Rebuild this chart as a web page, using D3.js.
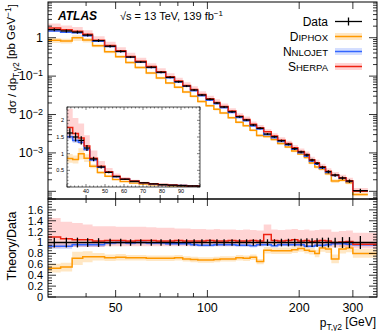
<!DOCTYPE html>
<meta charset="utf-8">
<head>
    <title>ATLAS diphoton pT gamma2</title>
    <style>
        body { margin: 0; background: #fff; }
        text { font-family: "Liberation Sans", Arial, sans-serif; fill: #000; }
    </style>
</head>
<body>
<script src="https://cdn.jsdelivr.net/npm/d3@7"></script>
<script>
// bin edges of p_T,gamma2 [GeV]
var edges = [30,33,36,39,42,46,50,54,58,63,68,73,78,83,88,93,99,105,110,117,
             124,131,138,145,153,162,170,180,189,198,208,216,225,233,244,255,270,285,300,336];

// measured cross section [pb/GeV] and relative uncertainty
var data = [1.62,1.50,1.40,1.17,0.84,0.60,0.44,0.314,0.233,0.170,0.126,0.093,0.0715,0.0552,0.0435,
            0.0322,0.0249,0.0199,0.0157,0.0118,0.00877,0.00719,0.00533,0.00437,0.00311,0.00264,0.00208,
            0.00168,0.00129,0.00106,0.00088,0.00065,0.000536,0.000422,0.000324,0.000265,0.000222,0.000185,0.000104];
var dataErr = [0.09,0.09,0.09,0.08,0.08,0.07,0.07,0.06,0.06,0.06,0.06,0.06,0.06,0.06,0.06,
               0.06,0.06,0.06,0.06,0.06,0.06,0.06,0.06,0.06,0.06,0.06,0.07,0.07,0.07,0.07,
               0.08,0.08,0.08,0.09,0.09,0.09,0.10,0.10,0.12];

// theory / data
var sherpa = [1.10,1.07,1.05,1.05,1.03,1.04,1.04,1.03,1.04,1.04,1.03,1.03,1.04,1.03,1.03,
              1.03,1.04,1.03,1.03,1.04,1.03,1.03,1.04,1.03,1.15,1.04,1.03,1.04,1.05,1.03,
              1.04,1.02,1.03,1.04,1.03,1.00,1.01,1.02,0.97];
var sherpaHi = [1.45,1.38,1.36,1.33,1.30,1.30,1.29,1.29,1.29,1.28,1.27,1.27,1.26,1.26,1.25,
                1.25,1.24,1.25,1.24,1.24,1.23,1.24,1.23,1.22,1.33,1.24,1.23,1.24,1.25,1.23,
                1.24,1.22,1.23,1.24,1.24,1.20,1.21,1.22,1.18];
var sherpaLo = [0.90,0.91,0.92,0.92,0.92,0.93,0.93,0.93,0.93,0.93,0.93,0.93,0.93,0.93,0.93,
                0.93,0.93,0.93,0.93,0.93,0.93,0.93,0.93,0.93,0.98,0.93,0.93,0.93,0.94,0.93,
                0.93,0.92,0.93,0.93,0.93,0.91,0.92,0.92,0.89];

var nnlojet = [0.93,0.93,0.96,0.96,0.96,0.99,1.00,0.99,1.00,0.99,0.99,0.98,0.98,0.98,0.96,
               0.95,0.95,0.96,0.96,0.96,0.95,0.95,0.94,0.96,0.96,0.94,0.96,0.96,0.96,0.96,
               0.93,0.93,0.95,0.95,0.96,0.98,0.98,0.97,0.96];
var nnlojetErr = [0.05,0.05,0.04,0.04,0.04,0.03,0.03,0.03,0.03,0.03,0.03,0.03,0.03,0.03,0.03,
                  0.03,0.03,0.03,0.03,0.03,0.03,0.03,0.03,0.03,0.03,0.03,0.03,0.03,0.03,0.03,
                  0.03,0.03,0.03,0.03,0.03,0.03,0.03,0.03,0.03];

var diphox = [0.53,0.55,0.71,0.74,0.74,0.72,0.73,0.72,0.72,0.71,0.71,0.71,0.72,0.70,0.69,
              0.68,0.68,0.69,0.70,0.70,0.72,0.71,0.73,0.65,0.86,0.85,0.85,0.85,0.87,0.89,
              0.86,0.84,0.80,0.90,0.88,0.70,0.88,0.90,0.80];
var diphoxErr = [0.08,0.08,0.12,0.10,0.07,0.06,0.06,0.05,0.05,0.05,0.05,0.05,0.05,0.05,0.05,
                 0.05,0.05,0.05,0.05,0.05,0.05,0.05,0.05,0.05,0.06,0.06,0.06,0.06,0.06,0.06,
                 0.06,0.06,0.07,0.07,0.07,0.08,0.08,0.08,0.08];

var mainYLabels = [{v: 1, b: "1", e: ""}, {v: 0.1, b: "10", e: "\u22121"},
                   {v: 0.01, b: "10", e: "\u22122"}, {v: 0.001, b: "10", e: "\u22123"}];
var xLabels = [50, 100, 200, 300];
var ratioLabels = [0, 0.2, 0.4, 0.6, 0.8, 1, 1.2, 1.4, 1.6];
var insetXLabels = [40, 50, 60, 70, 80, 90];
var insetYLabels = [0.5, 1, 1.5, 2];

var colRed = "#ee2211", colBlue = "#3366ff", colOrange = "#ff9900";
var bandRed = "rgba(255,40,40,0.2)", bandBlue = "rgba(40,90,255,0.2)", bandOrange = "rgba(255,160,20,0.25)";

var W = 390, H = 331;
var L = 48, R = 377, T = 2, MB = 199, RB = 297;

var svg = d3.select("body").append("svg").attr("width", W).attr("height", H);

var x = d3.scaleLog().domain([30, 360]).range([L, R]);
var yMain = d3.scaleLog().domain([Math.pow(10, -4.2), Math.pow(10, 0.93)]).range([MB, T]);
var yRatio = d3.scaleLinear().domain([0, 1.8]).range([RB, MB]);
var xi = d3.scaleLinear().domain([30, 100]).range([67, 200]);
var yi = d3.scaleLinear().domain([0, 2.4]).range([187, 107]);

var n = data.length;
function steps(vals, lastX) {
    var pts = vals.map(function(v, i) { return [edges[i], v]; });
    pts.push([lastX || edges[n], vals[n - 1]]);
    return pts;
}
function bandSteps(lo, hi, lastX) {
    var pts = lo.map(function(v, i) { return [edges[i], v, hi[i]]; });
    pts.push([lastX || edges[n], lo[n - 1], hi[n - 1]]);
    return pts;
}
function mul(a, b) { return a.map(function(v, i) { return v * b[i]; }); }
function addc(a, e, s) { return a.map(function(v, i) { return v + s * e[i]; }); }

var defs = svg.append("defs");
defs.append("clipPath").attr("id", "clipMain").append("rect")
    .attr("x", L).attr("y", T).attr("width", R - L).attr("height", MB - T);
defs.append("clipPath").attr("id", "clipRatio").append("rect")
    .attr("x", L).attr("y", MB).attr("width", R - L).attr("height", RB - MB);
defs.append("clipPath").attr("id", "clipInset").append("rect")
    .attr("x", xi.range()[0]).attr("y", yi.range()[1])
    .attr("width", xi.range()[1] - xi.range()[0]).attr("height", yi.range()[0] - yi.range()[1]);

// theory curves (ratios to data)
var theories = [
    {c: diphox, lo: addc(diphox, diphoxErr, -1), hi: addc(diphox, diphoxErr, 1), col: colOrange, band: bandOrange},
    {c: nnlojet, lo: addc(nnlojet, nnlojetErr, -1), hi: addc(nnlojet, nnlojetErr, 1), col: colBlue, band: bandBlue},
    {c: sherpa, lo: sherpaLo, hi: sherpaHi, col: colRed, band: bandRed}
];

function drawPanel(g, xs, ys, absolute, lastX) {
    var line = d3.line().x(function(d) { return xs(d[0]); }).y(function(d) { return ys(d[1]); }).curve(d3.curveStepAfter);
    var area = d3.area().x(function(d) { return xs(d[0]); })
        .y0(function(d) { return ys(d[1]); }).y1(function(d) { return ys(d[2]); }).curve(d3.curveStepAfter);
    theories.forEach(function(t) {
        var lo = absolute ? mul(t.lo, data) : t.lo;
        var hi = absolute ? mul(t.hi, data) : t.hi;
        g.append("path").attr("d", area(bandSteps(lo, hi, lastX))).attr("fill", t.band);
    });
    theories.forEach(function(t) {
        var c = absolute ? mul(t.c, data) : t.c;
        g.append("path").attr("d", line(steps(c, lastX))).attr("fill", "none")
            .attr("stroke", t.col).attr("stroke-width", 1.5);
    });
    // data
    data.forEach(function(d, i) {
        var v = absolute ? d : 1;
        var xc = Math.sqrt(edges[i] * edges[i + 1]);
        if (xs === xi) xc = (edges[i] + edges[i + 1]) / 2;
        if (absolute) {
            g.append("line").attr("x1", xs(edges[i])).attr("x2", xs(edges[i + 1]))
                .attr("y1", ys(v)).attr("y2", ys(v)).attr("stroke", "#000").attr("stroke-width", 1.3);
        }
        g.append("line").attr("x1", xs(xc)).attr("x2", xs(xc))
            .attr("y1", ys(v * (1 - dataErr[i]))).attr("y2", ys(v * (1 + dataErr[i])))
            .attr("stroke", "#000").attr("stroke-width", 1.3);
    });
    if (!absolute) {
        g.append("line").attr("x1", L).attr("x2", R).attr("y1", ys(1)).attr("y2", ys(1))
            .attr("stroke", "#000").attr("stroke-width", 1.5);
    }
}

var gMain = svg.append("g").attr("clip-path", "url(#clipMain)");
drawPanel(gMain, x, yMain, true);

var gRatio = svg.append("g").attr("clip-path", "url(#clipRatio)");
drawPanel(gRatio, x, yRatio, false, 360);

// frames
svg.append("rect").attr("x", L).attr("y", T).attr("width", R - L).attr("height", MB - T)
    .attr("fill", "none").attr("stroke", "#000").attr("stroke-width", 1);
svg.append("rect").attr("x", L).attr("y", MB).attr("width", R - L).attr("height", RB - MB)
    .attr("fill", "none").attr("stroke", "#000").attr("stroke-width", 1);

var ticks = svg.append("g").attr("stroke", "#000").attr("stroke-width", 0.8);
function tick(x1, y1, x2, y2) {
    ticks.append("line").attr("x1", x1).attr("y1", y1).attr("x2", x2).attr("y2", y2);
}

// x ticks on both panels
var xTicks = [40, 50, 60, 70, 80, 90, 100, 200, 300];
xTicks.forEach(function(v) {
    var len = xLabels.indexOf(v) >= 0 ? 7 : 4;
    var px = x(v);
    tick(px, T, px, T + len);
    tick(px, MB, px, MB - len);
    tick(px, MB, px, MB + len);
    tick(px, RB, px, RB - len);
});

// main y ticks (log)
for (var k = -5; k <= 0; k++) {
    for (var m = 1; m <= 9; m++) {
        var v = m * Math.pow(10, k);
        if (v < yMain.domain()[0] || v > yMain.domain()[1]) continue;
        var len = m === 1 ? 8 : 4;
        tick(L, yMain(v), L + len, yMain(v));
        tick(R, yMain(v), R - len, yMain(v));
    }
}

// ratio y ticks
d3.range(0, 1.801, 0.05).forEach(function(v) {
    var major = Math.abs(v * 5 - Math.round(v * 5)) < 1e-6;
    var len = major ? 8 : 4;
    tick(L, yRatio(v), L + len, yRatio(v));
    tick(R, yRatio(v), R - len, yRatio(v));
});

// labels
var lab = svg.append("g").style("font-size", "12.5px");
mainYLabels.forEach(function(d) {
    var t = lab.append("text").attr("x", 43).attr("y", yMain(d.v)).attr("dy", "0.35em").attr("text-anchor", "end");
    t.append("tspan").text(d.b);
    if (d.e) t.append("tspan").attr("dy", "-0.45em").style("font-size", "9px").text(d.e);
});
ratioLabels.forEach(function(v) {
    lab.append("text").attr("x", 43).attr("y", yRatio(v)).attr("dy", "0.35em").style("font-size", "11px")
        .attr("text-anchor", "end").text(d3.format("~g")(v));
});
xLabels.forEach(function(v) {
    lab.append("text").attr("x", x(v)).attr("y", 312).attr("text-anchor", "middle").text(v);
});

// axis titles
var yt = svg.append("text").attr("transform", "translate(16," + 4 + ") rotate(-90)")
    .attr("text-anchor", "end").style("font-size", "11.5px");
yt.append("tspan").text("d\u03c3 / dp");
yt.append("tspan").attr("dy", "0.3em").style("font-size", "8.5px").text("T,\u03b32");
yt.append("tspan").attr("dy", "-0.3em").text(" [pb GeV");
yt.append("tspan").attr("dy", "-0.45em").style("font-size", "8.5px").text("\u22121");
yt.append("tspan").attr("dy", "0.45em").text("]");

svg.append("text").attr("transform", "translate(16," + 246 + ") rotate(-90)")
    .attr("text-anchor", "middle").style("font-size", "12.5px").text("Theory/Data");

var xt = svg.append("text").attr("x", 376).attr("y", 327).attr("text-anchor", "end").style("font-size", "12px");
xt.append("tspan").text("p");
xt.append("tspan").attr("dy", "0.3em").style("font-size", "8.5px").text("T,\u03b32");
xt.append("tspan").attr("dy", "-0.3em").text(" [GeV]");

// ATLAS label
svg.append("text").attr("x", 58).attr("y", 20).style("font-size", "12px")
    .style("font-weight", "bold").style("font-style", "italic").text("ATLAS");
var en = svg.append("text").attr("x", 120).attr("y", 20).style("font-size", "11px");
en.append("tspan").text("\u221as = 13 TeV, 139 fb");
en.append("tspan").attr("dy", "-0.45em").style("font-size", "8px").text("\u22121");

// legend (small caps written by hand: capital initial + smaller capitals)
var legend = [
    {first: "Data", rest: "", col: "#000", band: null},
    {first: "D", rest: "IPHOX", col: colOrange, band: bandOrange},
    {first: "N", rest: "NLOJET", col: colBlue, band: bandBlue},
    {first: "S", rest: "HERPA", col: colRed, band: bandRed}
];
var lg = svg.append("g");
legend.forEach(function(d, i) {
    var cy = 21.5 + i * 15;
    var t = lg.append("text").attr("x", 328).attr("y", cy + 4.3).attr("text-anchor", "end").style("font-size", "12px");
    t.append("tspan").text(d.first);
    if (d.rest) t.append("tspan").style("font-size", "9.5px").text(d.rest);
    if (d.band) {
        lg.append("rect").attr("x", 335).attr("y", cy - 3.5).attr("width", 27).attr("height", 7).attr("fill", d.band);
    } else {
        lg.append("line").attr("x1", 348.5).attr("x2", 348.5).attr("y1", cy - 4).attr("y2", cy + 4)
            .attr("stroke", "#000").attr("stroke-width", 1.3);
    }
    lg.append("line").attr("x1", 335).attr("x2", 362).attr("y1", cy).attr("y2", cy)
        .attr("stroke", d.col).attr("stroke-width", i ? 1.5 : 1.3);
});

// inset
var gi = svg.append("g");
gi.append("rect").attr("x", xi.range()[0]).attr("y", yi.range()[1])
    .attr("width", xi.range()[1] - xi.range()[0]).attr("height", yi.range()[0] - yi.range()[1])
    .attr("fill", "#fff");
var giPlot = gi.append("g").attr("clip-path", "url(#clipInset)");
drawPanel(giPlot, xi, yi, true);
gi.append("rect").attr("x", xi.range()[0]).attr("y", yi.range()[1])
    .attr("width", xi.range()[1] - xi.range()[0]).attr("height", yi.range()[0] - yi.range()[1])
    .attr("fill", "none").attr("stroke", "#000").attr("stroke-width", 0.7);
var giT = gi.append("g").attr("stroke", "#000").attr("stroke-width", 0.5);
d3.range(30, 100.1, 2).forEach(function(v) {
    var len = v % 10 === 0 ? 3 : 1.5;
    giT.append("line").attr("x1", xi(v)).attr("x2", xi(v)).attr("y1", yi.range()[0]).attr("y2", yi.range()[0] - len);
    giT.append("line").attr("x1", xi(v)).attr("x2", xi(v)).attr("y1", yi.range()[1]).attr("y2", yi.range()[1] + len);
});
d3.range(0, 2.401, 0.1).forEach(function(v) {
    var len = Math.abs(v * 2 - Math.round(v * 2)) < 1e-6 ? 3 : 1.5;
    giT.append("line").attr("x1", xi.range()[0]).attr("x2", xi.range()[0] + len).attr("y1", yi(v)).attr("y2", yi(v));
    giT.append("line").attr("x1", xi.range()[1]).attr("x2", xi.range()[1] - len).attr("y1", yi(v)).attr("y2", yi(v));
});
insetXLabels.forEach(function(v) {
    gi.append("text").attr("x", xi(v)).attr("y", 193).attr("text-anchor", "middle").style("font-size", "5.5px").text(v);
});
insetYLabels.forEach(function(v) {
    gi.append("text").attr("x", 64).attr("y", yi(v)).attr("dy", "0.35em").attr("text-anchor", "end")
        .style("font-size", "5.5px").text(v);
});
</script>
</body>
</html>
